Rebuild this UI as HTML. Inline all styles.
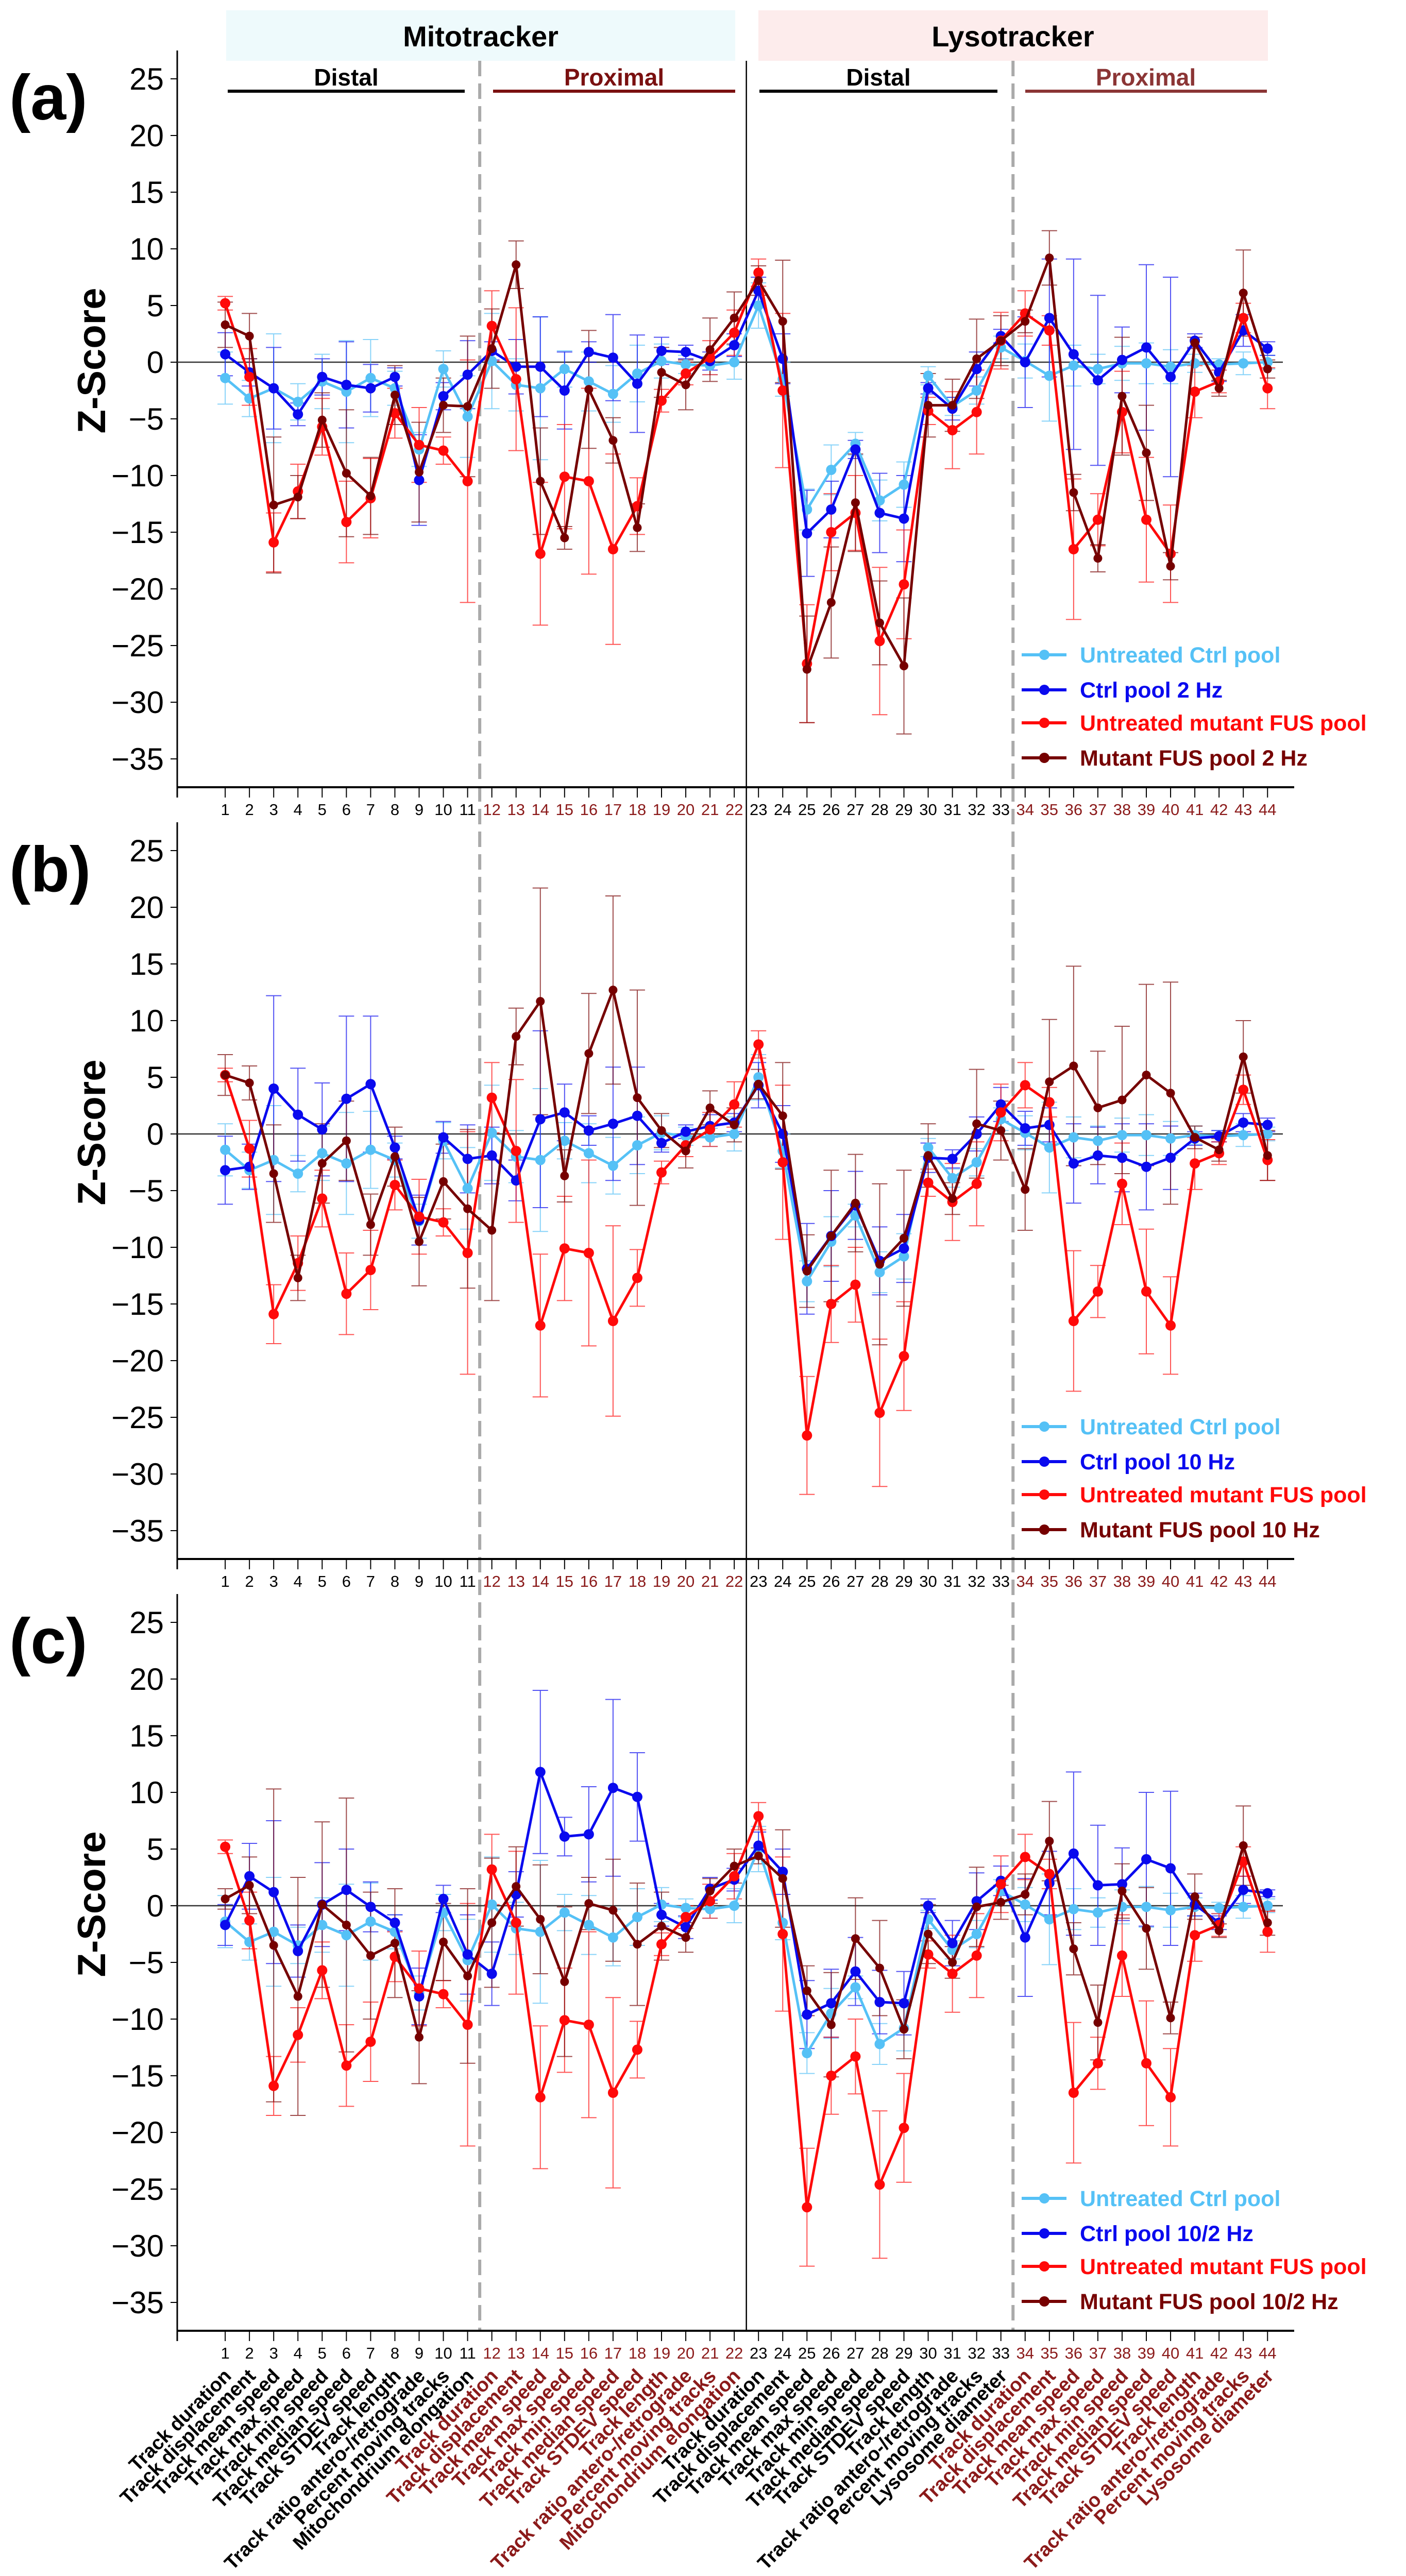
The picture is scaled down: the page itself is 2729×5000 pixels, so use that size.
<!DOCTYPE html>
<html><head><meta charset="utf-8">
<style>
html,body{margin:0;padding:0;background:#fff;}
svg{display:block;font-family:"Liberation Sans",Arial,sans-serif;}
</style></head>
<body>
<svg id="chart" width="2729" height="5000" viewBox="0 0 2729 5000" xmlns="http://www.w3.org/2000/svg">
  <g>
    <rect x="439" y="20" width="988" height="98" fill="#eefafc"/>
    <rect x="1472" y="20" width="989" height="98" fill="#fdecec"/>
    <text x="933" y="90" font-size="56" font-weight="bold" text-anchor="middle">Mitotracker</text>
    <text x="1966" y="90" font-size="56" font-weight="bold" text-anchor="middle">Lysotracker</text>
    <text x="672" y="166" font-size="46" font-weight="bold" text-anchor="middle">Distal</text>
    <rect x="442" y="174" width="460" height="6" fill="#000"/>
    <text x="1192" y="166" font-size="46" font-weight="bold" text-anchor="middle" fill="#7a1010">Proximal</text>
    <rect x="957" y="174" width="470" height="6" fill="#7a1010"/>
    <text x="1705" y="166" font-size="46" font-weight="bold" text-anchor="middle">Distal</text>
    <rect x="1474" y="174" width="462" height="6" fill="#000"/>
    <text x="2224" y="166" font-size="46" font-weight="bold" text-anchor="middle" fill="#8b3535">Proximal</text>
    <rect x="1990" y="174" width="469" height="6" fill="#8b3535"/>
  </g>
  <g id="grid"></g>
  <g id="panels"></g>
  <g id="catlabels"></g>
</svg>
<script>
// ---- data ----
const categories = ["Track duration","Track displacement","Track mean speed","Track max speed","Track min speed","Track median speed","Track STDEV speed","Track length","Track ratio antero-/retrograde","Percent moving tracks","Mitochondrium elongation",
"Track duration","Track displacement","Track mean speed","Track max speed","Track min speed","Track median speed","Track STDEV speed","Track length","Track ratio antero-/retrograde","Percent moving tracks","Mitochondrium elongation",
"Track duration","Track displacement","Track mean speed","Track max speed","Track min speed","Track median speed","Track STDEV speed","Track length","Track ratio antero-/retrograde","Percent moving tracks","Lysosome diameter",
"Track duration","Track displacement","Track mean speed","Track max speed","Track min speed","Track median speed","Track STDEV speed","Track length","Track ratio antero-/retrograde","Percent moving tracks","Lysosome diameter"];
const yTicks = [25,20,15,10,5,0,-5,-10,-15,-20,-25,-30,-35];
const untreatedCtrl = [-1.4,-3.2,-2.3,-3.5,-1.7,-2.6,-1.4,-2.3,-7.7,-0.6,-4.8,0.1,-2.0,-2.3,-0.6,-1.7,-2.8,-1.0,0.1,-0.2,-0.3,0.0,
 5.0,-1.5,-13.0,-9.5,-7.2,-12.2,-10.8,-1.2,-3.9,-2.5,1.3,0.1,-1.2,-0.3,-0.6,-0.1,-0.1,-0.4,-0.1,-0.2,-0.1,0.0];
const untreatedCtrlErr = [2.3,1.6,4.8,1.6,2.4,4.5,3.4,1.5,1.5,1.6,3.6,4.2,2.3,6.3,1.6,2.6,2.5,2.5,1.5,0.8,0.8,1.5,
 2,1.5,1.8,2.2,1,1.8,2,0.8,0.8,1.2,1,1.5,4,1.8,1.3,1.5,1.8,1.5,0.8,0.5,1,0.6];
const untreatedMutant = [5.2,-1.3,-15.9,-11.4,-5.7,-14.1,-12.0,-4.5,-7.3,-7.8,-10.5,3.2,-1.5,-16.9,-10.1,-10.5,-16.5,-12.7,-3.4,-1.0,0.4,2.6,
 7.9,-2.5,-26.6,-15.0,-13.3,-24.6,-19.6,-4.3,-6.0,-4.4,1.9,4.3,2.8,-16.5,-13.9,-4.4,-13.9,-16.9,-2.6,-1.7,3.9,-2.3];
const untreatedMutantErr = [0.6,2.5,2.6,2.4,2.5,3.6,3.5,2.2,3.3,1.2,10.7,3.1,6.3,6.3,4.6,8.2,8.4,2.5,1,1,1.5,2,
 1.2,6.8,5.2,3.4,3.3,6.5,4.8,1.2,3.4,3.7,2.5,2,1.3,6.2,2.3,3.6,5.5,4.3,2.3,1,1.3,1.8];
const ctrlA = [0.7,-0.9,-2.3,-4.6,-1.3,-2.0,-2.3,-1.3,-10.4,-3.0,-1.1,1.0,-0.4,-0.4,-2.5,0.9,0.4,-1.9,1.0,0.9,0.1,1.5,
 6.3,0.3,-15.1,-13.0,-7.7,-13.3,-13.8,-2.3,-4.1,-0.6,2.3,0.0,3.9,0.7,-1.6,0.2,1.3,-1.3,1.9,-0.9,2.8,1.2];
const ctrlAErr = [1.9,1.2,3.6,1,1.6,3.8,2.1,0.8,4.0,1.2,3,0.8,2.4,4.4,3.4,0.9,3.8,4.3,1.2,0.6,0.8,1.0,
 1.2,2.2,3.8,2.5,0.8,3.5,3.8,0.5,1,1.5,0.6,4,5.2,8.4,7.5,2.9,7.3,8.8,0.6,0.8,1.4,0.6];
const mutantA = [3.3,2.3,-12.6,-11.9,-5.1,-9.8,-11.8,-2.9,-9.7,-3.8,-3.9,1.2,8.6,-10.5,-15.5,-2.4,-6.9,-14.6,-0.9,-2.0,1.1,3.9,
 7.2,3.6,-27.1,-21.2,-12.4,-23.0,-26.8,-3.8,-3.8,0.3,1.9,3.6,9.2,-11.5,-17.3,-3.0,-8.0,-18.0,1.7,-2.3,6.1,-0.6];
const mutantAErr = [2,2,6,1.9,2.4,5.6,3.4,2.6,4.4,2.4,6.2,3.5,2.1,4.7,1,5.2,2,2.1,2.2,2.2,2.8,2.3,
 1.3,5.4,4.7,4.9,4.3,3.7,6,2.8,2.3,3.5,2.2,1,2.4,1.6,1.2,5.2,4.2,1.2,0.5,0.7,3.8,0.8];
const ctrlB = [-3.2,-2.9,4.0,1.7,0.4,3.1,4.4,-1.2,-7.6,-0.3,-2.2,-1.9,-4.1,1.3,1.9,0.3,0.9,1.6,-0.8,0.2,0.7,1.0,
 4.3,0.0,-11.9,-9.0,-6.3,-11.2,-10.1,-2.1,-2.2,0.0,2.6,0.5,0.8,-2.6,-1.9,-2.1,-2.9,-2.1,-0.4,-0.2,1.0,0.8];
const ctrlBErr = [3,2,8.2,4.1,4.1,7.3,6,1,2.2,1.4,3,2.5,1.8,7.8,2.5,1.3,5,4.3,0.8,0.6,1,0.8,
 2,2.5,4,4,3,3,3,1.3,0.8,1.5,1.5,1.5,1.5,3.5,2.5,3,3.8,2.8,0.6,0.5,0.8,0.6];
const mutantB = [5.2,4.5,-3.5,-12.7,-2.6,-0.6,-8.0,-2.0,-9.5,-4.2,-6.6,-8.5,8.6,11.7,-3.7,7.1,12.7,3.2,0.3,-1.5,2.3,0.8,
 4.4,1.6,-12.1,-9.0,-6.1,-11.5,-9.2,-1.9,-5.7,0.9,0.3,-4.9,4.6,6.0,2.3,3.0,5.2,3.6,-0.3,-1.4,6.8,-1.9];
const mutantBErr = [1.8,1.5,4.3,2,3.5,3.5,2.7,2.6,3.9,3.3,7,6.2,2.5,10,2.3,5.3,8.3,9.5,1.5,1.5,1.5,1.5,
 1.3,4.7,3.2,5.8,4.3,7.1,6,2.8,1.4,4.8,2.6,3.6,5.5,8.8,5,6.5,8,9.8,1,1,3.2,2.2];
const ctrlC = [-1.7,2.6,1.2,-4.0,0.1,1.4,-0.1,-1.5,-8.0,0.6,-4.3,-6.0,1.0,11.8,6.1,6.3,10.4,9.6,-0.8,-1.9,1.5,2.3,
 5.3,3.0,-9.6,-8.6,-5.8,-8.5,-8.6,0.0,-3.3,0.4,2.2,-2.8,2.0,4.6,1.8,1.9,4.1,3.3,0.1,-1.5,1.4,1.1];
const ctrlCErr = [1.8,2.9,6.3,2.3,3.7,3.6,2.2,0.7,2.5,1.2,3.5,2.8,2,7.2,1.7,4.2,7.8,3.9,1,1,1,1,
 1.2,2,3,3,3,2.8,2.8,0.6,2,2.5,1.3,5.2,2.8,7.2,5.3,3.2,5.9,6.8,1,0.6,1.2,0.3];
const mutantC = [0.6,1.8,-3.5,-8.0,0.1,-1.7,-4.4,-3.3,-11.6,-3.2,-6.2,-1.5,1.7,-1.2,-6.7,0.2,-0.4,-3.4,-1.8,-2.8,1.3,3.5,
 4.4,2.4,-7.5,-10.5,-2.9,-5.5,-10.9,-2.5,-5.0,-0.1,0.3,1.0,5.7,-3.8,-10.3,1.3,-2.0,-9.9,0.8,-2.2,5.3,-1.5];
const mutantCErr = [0.9,2.5,13.8,10.5,7.3,11.2,5.6,4.8,4.1,3.4,7.7,5.7,3.5,4.8,6.6,2.3,4.5,5.4,3,1.3,1.1,1.5,
 0.7,4.3,2.2,4.6,3.6,4.2,2.6,2.6,1.4,3.5,1.5,1.8,3.5,2.3,3.3,2.4,3.6,1.4,2,0.6,3.5,1.1];
const panelTags = ["(a)","(b)","(c)"];
const ctrlLegend = ["Ctrl pool 2 Hz","Ctrl pool 10 Hz","Ctrl pool 10/2 Hz"];
const mutantLegend = ["Mutant FUS pool 2 Hz","Mutant FUS pool 10 Hz","Mutant FUS pool 10/2 Hz"];

// ---- scales ----
const OFF = [0,1498,2996];
function xS(i){ return 437.1 + 47.05*(i-1); }
function yS(v,p){ return 703 + OFF[p] - 22*v; }

const NS = "http://www.w3.org/2000/svg";
function mk(tag, attrs, parent){
  const e = document.createElementNS(NS, tag);
  for (const k in attrs) e.setAttribute(k, attrs[k]);
  parent.appendChild(e); return e;
}
const grid = document.getElementById('grid');
const panels = document.getElementById('panels');
const catG = document.getElementById('catlabels');

let sep = mk('line',{x1:(xS(22)+xS(23))/2,x2:(xS(22)+xS(23))/2,y1:118,y2:4524,stroke:'#000','stroke-width':2.5},grid);


[11,33].forEach(k=>{
  const d = mk('line',{x1:(xS(k)+xS(k+1))/2,x2:(xS(k)+xS(k+1))/2,y1:118,y2:4524,stroke:'#aaaaaa','stroke-width':6,'stroke-dasharray':'30 14'},grid);
  
  
});

const colLB='#55c1f6', colB='#0a0aee', colR='#ff0a0a', colDR='#760000';
const darkRed='#8b1a1a';

for (let p=0;p<3;p++){
  const g = mk('g',{},panels);
  
  
  const o = OFF[p];
  const tag = mk('text',{x:18,y:232+o,'font-size':124,'font-weight':'bold'},g);
  tag.textContent = panelTags[p];
  
  
  const yt = mk('text',{x:0,y:0,'font-size':76,'font-weight':'bold','text-anchor':'middle',transform:`translate(204,${700+o}) rotate(-90)`},g);
  yt.textContent = 'Z-Score';
  
  
  const ya = mk('line',{x1:344,x2:344,y1:98+o,y2:1548+o,stroke:'#000','stroke-width':3},g);
  
  
  yTicks.forEach(t=>{
    const y = yS(t,p);
    mk('line',{x1:331,x2:344,y1:y,y2:y,stroke:'#000','stroke-width':2},g);
    const tl = mk('text',{x:318,y:y+21,'font-size':60,'text-anchor':'end'},g);
    tl.textContent = (t<0?'\u2212':'')+Math.abs(t);
    
    
  });
  const xa = mk('line',{x1:344,x2:2512,y1:1528+o,y2:1528+o,stroke:'#000','stroke-width':4},g);
  
  
  const zl = mk('line',{x1:344,x2:2490,y1:yS(0,p),y2:yS(0,p),stroke:'#333','stroke-width':2.5},g);
  
  
  for (let i=1;i<=44;i++){
    mk('line',{x1:xS(i),x2:xS(i),y1:1528+o,y2:1548+o,stroke:'#000','stroke-width':2},g);
    const nl = mk('text',{x:xS(i),y:1582+o,'font-size':31,'text-anchor':'middle',fill:((i>=12&&i<=22)||i>=34)?darkRed:'#000'},g);
    nl.textContent = i;
    
    
  }
  const series = [
    {name:'untreated-ctrl', v:untreatedCtrl, e:untreatedCtrlErr, c:colLB, r:10},
    {name:'ctrl-stimulated', v:[ctrlA,ctrlB,ctrlC][p], e:[ctrlAErr,ctrlBErr,ctrlCErr][p], c:colB, r:10},
    {name:'untreated-mutant', v:untreatedMutant, e:untreatedMutantErr, c:colR, r:10},
    {name:'mutant-stimulated', v:[mutantA,mutantB,mutantC][p], e:[mutantAErr,mutantBErr,mutantCErr][p], c:colDR, r:8.5}
  ];
  series.forEach(s=>{
    const sg = mk('g',{},g);
    
    
    s.v.forEach((v,k)=>{
      const x = xS(k+1), y1 = yS(v+s.e[k],p), y2 = yS(v-s.e[k],p);
      const eb = mk('path',{d:`M${x},${y1}V${y2}M${x-15},${y1}H${x+15}M${x-15},${y2}H${x+15}`,stroke:s.c,'stroke-width':2,'stroke-opacity':0.7,fill:'none'},sg);
      
      
    });
  });
  series.forEach(s=>{
    const sg = mk('g',{},g);
    
    
    const pts = s.v.map((v,k)=>xS(k+1)+','+yS(v,p)).join(' ');
    const pl = mk('polyline',{points:pts,fill:'none',stroke:s.c,'stroke-width':5,'stroke-linejoin':'round'},sg);
    
    
    s.v.forEach((v,k)=>{
      const c = mk('circle',{cx:xS(k+1),cy:yS(v,p),r:s.r,fill:s.c},sg);
      
      
    });
  });
  const lg = mk('g',{},g);
  
  
  const entries = [['Untreated Ctrl pool',colLB],[ctrlLegend[p],colB],['Untreated mutant FUS pool',colR],[mutantLegend[p],colDR]];
  const rows = [1271,1339,1403,1471];
  entries.forEach((en,k)=>{
    const y = rows[k]+o;
    const eg = mk('g',{},lg);
    
    
    mk('line',{x1:1983,x2:2070,y1:y,y2:y,stroke:en[1],'stroke-width':6},eg);
    mk('circle',{cx:2027,cy:y,r:10,fill:en[1]},eg);
    const t = mk('text',{x:2096,y:y+15,'font-size':43,'font-weight':'bold',fill:en[1]},eg);
    t.textContent = en[0];
  });
}

categories.forEach((c,k)=>{
  const i = k+1;
  const x = xS(i)+14, y = 4614;
  const t = mk('text',{x:x,y:y,'font-size':38,'font-weight':'bold','text-anchor':'end',fill:((i>=12&&i<=22)||i>=34)?darkRed:'#000',transform:`rotate(-45 ${x} ${y})`},catG);
  t.textContent = c;
  
  
});
</script>
</body></html>
